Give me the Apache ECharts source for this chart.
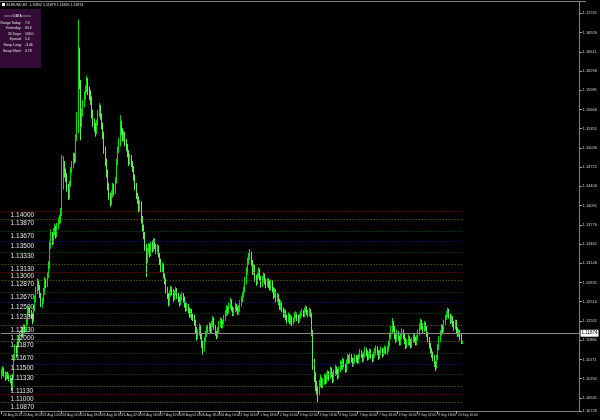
<!DOCTYPE html>
<html><head><meta charset="utf-8">
<script src="https://cdn.jsdelivr.net/npm/echarts@6/dist/echarts.min.js"></script>
<style>html,body{margin:0;padding:0;background:#000;}#c{width:600px;height:420px;}</style>
</head><body><div id="c"></div>
<script>
const symbolName = 'EURUSD,H1';
const tradingDays = ['20 Aug','21 Aug','24 Aug','25 Aug','26 Aug','27 Aug','28 Aug','31 Aug','1 Sep','2 Sep','3 Sep','4 Sep','7 Sep','8 Sep','9 Sep','10 Sep'];
const firstHour = 2;
const xTickLabels = ['20 Aug 2015','20 Aug 18:00','21 Aug 10:00','24 Aug 02:00','24 Aug 18:00','25 Aug 10:00','26 Aug 02:00','26 Aug 18:00','27 Aug 10:00','28 Aug 02:00','28 Aug 18:00','31 Aug 10:00','1 Sep 02:00','1 Sep 18:00','2 Sep 10:00','3 Sep 02:00','3 Sep 18:00','4 Sep 10:00','7 Sep 02:00','7 Sep 18:00','8 Sep 10:00','9 Sep 02:00','9 Sep 18:00','10 Sep 10:00'];

const opens = [
1.1130,1.1135,1.1140,1.1133,1.1128,1.1132,1.1130,1.1127,1.1124,1.1112,1.1130,1.1160,1.1175,1.1168,1.1182,1.1190,1.1198,1.1205,1.1200,1.1210,1.1206,1.1218,1.1235,1.1238,
1.1232,1.1228,1.1222,1.1240,1.1255,1.1270,1.1283,1.1275,1.1262,1.1248,1.1252,1.1268,1.1285,1.1280,1.1295,1.1310,1.1345,1.1362,1.1350,1.1366,1.1372,1.1360,1.1375,1.1384,
1.1388,1.1395,1.1440,1.1478,1.1462,1.1455,1.1440,1.1425,1.1445,1.1468,1.1475,1.1490,1.1485,1.1520,1.1555,1.1660,1.1610,1.1545,1.1560,1.1575,1.1590,1.1600,1.1612,1.1598,
1.1592,1.1580,1.1560,1.1545,1.1538,1.1530,1.1545,1.1560,1.1570,1.1555,1.1540,1.1525,1.1500,1.1480,1.1462,1.1440,1.1425,1.1415,1.1428,1.1440,1.1432,1.1450,1.1480,1.1500,
1.1512,1.1540,1.1530,1.1520,1.1525,1.1512,1.1505,1.1495,1.1480,1.1488,1.1478,1.1470,1.1455,1.1440,1.1425,1.1418,1.1405,1.1412,1.1385,1.1372,1.1360,1.1340,1.1320,1.1335,
1.1340,1.1330,1.1345,1.1338,1.1350,1.1342,1.1335,1.1340,1.1328,1.1318,1.1305,1.1310,1.1295,1.1285,1.1270,1.1262,1.1250,1.1265,1.1272,1.1268,1.1258,1.1265,1.1270,1.1262,
1.1255,1.1250,1.1258,1.1262,1.1255,1.1248,1.1240,1.1245,1.1238,1.1230,1.1236,1.1228,1.1225,1.1218,1.1205,1.1195,1.1200,1.1210,1.1195,1.1182,1.1175,1.1190,1.1198,1.1205,
1.1208,1.1212,1.1205,1.1215,1.1222,1.1210,1.1200,1.1195,1.1205,1.1215,1.1220,1.1212,1.1218,1.1225,1.1232,1.1240,1.1235,1.1245,1.1252,1.1240,1.1232,1.1238,1.1245,1.1240,
1.1236,1.1240,1.1248,1.1255,1.1262,1.1270,1.1285,1.1300,1.1318,1.1325,1.1332,1.1315,1.1300,1.1308,1.1290,1.1285,1.1295,1.1302,1.1290,1.1280,1.1288,1.1295,1.1285,1.1280,
1.1284,1.1280,1.1275,1.1282,1.1270,1.1262,1.1268,1.1255,1.1260,1.1250,1.1242,1.1248,1.1238,1.1230,1.1235,1.1226,1.1222,1.1228,1.1220,1.1225,1.1218,1.1222,1.1228,1.1230,
1.1225,1.1222,1.1228,1.1232,1.1236,1.1230,1.1238,1.1240,1.1235,1.1232,1.1238,1.1230,1.1200,1.1150,1.1130,1.1115,1.1108,1.1102,1.1118,1.1125,1.1115,1.1120,1.1128,1.1122,
1.1130,1.1135,1.1128,1.1140,1.1132,1.1125,1.1135,1.1142,1.1138,1.1130,1.1140,1.1150,1.1145,1.1155,1.1148,1.1140,1.1152,1.1160,1.1155,1.1162,1.1158,1.1150,1.1155,1.1160,
1.1158,1.1155,1.1162,1.1168,1.1165,1.1158,1.1165,1.1172,1.1168,1.1160,1.1165,1.1170,1.1162,1.1158,1.1165,1.1170,1.1175,1.1168,1.1162,1.1168,1.1172,1.1165,1.1170,1.1175,
1.1170,1.1175,1.1182,1.1195,1.1205,1.1215,1.1208,1.1195,1.1190,1.1200,1.1192,1.1185,1.1195,1.1202,1.1195,1.1188,1.1180,1.1185,1.1192,1.1185,1.1180,1.1188,1.1195,1.1190,
1.1185,1.1192,1.1200,1.1210,1.1218,1.1212,1.1205,1.1215,1.1208,1.1198,1.1190,1.1180,1.1172,1.1165,1.1160,1.1150,1.1145,1.1160,1.1178,1.1190,1.1200,1.1210,1.1205,1.1218,
1.1225,1.1230,1.1236,1.1228,1.1220,1.1225,1.1215,1.1210,1.1218,1.1205,1.1198,1.1202,1.1192,1.11852
];
const highs = [
1.1142,1.1146,1.1144,1.1137,1.1136,1.1137,1.1134,1.1131,1.1127,1.1134,1.1166,1.1182,1.1180,1.1188,1.1197,1.1204,1.1212,1.1210,1.1215,1.1214,1.1223,1.1241,1.1245,1.1242,
1.1238,1.1234,1.1246,1.1262,1.1276,1.1290,1.1288,1.1279,1.1266,1.1258,1.1274,1.1292,1.1289,1.1300,1.1318,1.1352,1.1370,1.1366,1.1372,1.1380,1.1376,1.1381,1.1390,1.1394,
1.1405,1.1492,1.1490,1.1482,1.1470,1.1462,1.1445,1.1450,1.1472,1.1482,1.1496,1.1495,1.1526,1.1562,1.1714,1.1668,1.1615,1.1568,1.1582,1.1596,1.1606,1.1622,1.1618,1.1604,
1.1598,1.1588,1.1566,1.1552,1.1545,1.1550,1.1566,1.1577,1.1574,1.1560,1.1545,1.1530,1.1506,1.1486,1.1468,1.1446,1.1430,1.1434,1.1446,1.1445,1.1456,1.1486,1.1506,1.1520,
1.1557,1.1548,1.1536,1.1532,1.1530,1.1518,1.1510,1.1500,1.1494,1.1492,1.1482,1.1474,1.1460,1.1446,1.1430,1.1424,1.1418,1.1416,1.1392,1.1378,1.1366,1.1346,1.1340,1.1348,
1.1346,1.1350,1.1352,1.1356,1.1355,1.1346,1.1346,1.1344,1.1332,1.1322,1.1316,1.1314,1.1298,1.1290,1.1276,1.1266,1.1270,1.1278,1.1276,1.1272,1.1270,1.1276,1.1274,1.1266,
1.1260,1.1264,1.1268,1.1266,1.1260,1.1252,1.1250,1.1248,1.1242,1.1240,1.1240,1.1232,1.1230,1.1222,1.1210,1.1206,1.1216,1.1214,1.1200,1.1188,1.1194,1.1204,1.1212,1.1214,
1.1218,1.1216,1.1220,1.1228,1.1226,1.1214,1.1204,1.1210,1.1220,1.1226,1.1224,1.1222,1.1230,1.1238,1.1246,1.1244,1.1250,1.1258,1.1255,1.1244,1.1242,1.1250,1.1248,1.1244,
1.1246,1.1254,1.1260,1.1268,1.1276,1.1292,1.1308,1.1324,1.1332,1.1338,1.1334,1.1320,1.1314,1.1312,1.1296,1.1300,1.1308,1.1306,1.1294,1.1294,1.1300,1.1298,1.1290,1.1290,
1.1290,1.1286,1.1288,1.1287,1.1276,1.1274,1.1272,1.1266,1.1264,1.1256,1.1254,1.1252,1.1242,1.1240,1.1238,1.1230,1.1234,1.1232,1.1230,1.1228,1.1226,1.1234,1.1236,1.1234,
1.1230,1.1232,1.1236,1.1240,1.1238,1.1242,1.1246,1.1244,1.1238,1.1242,1.1240,1.1234,1.1205,1.1158,1.1136,1.1122,1.1114,1.1124,1.1132,1.1128,1.1126,1.1134,1.1132,1.1136,
1.1140,1.1138,1.1145,1.1144,1.1136,1.1140,1.1148,1.1146,1.1142,1.1145,1.1156,1.1154,1.1160,1.1158,1.1150,1.1157,1.1166,1.1164,1.1168,1.1166,1.1160,1.1160,1.1166,1.1164,
1.1164,1.1167,1.1174,1.1172,1.1168,1.1170,1.1178,1.1176,1.1172,1.1170,1.1175,1.1174,1.1166,1.1170,1.1176,1.1180,1.1179,1.1172,1.1173,1.1178,1.1176,1.1175,1.1180,1.1178,
1.1180,1.1188,1.1200,1.1212,1.1225,1.1220,1.1212,1.1200,1.1206,1.1204,1.1196,1.1200,1.1208,1.1206,1.1200,1.1192,1.1190,1.1198,1.1195,1.1190,1.1193,1.1200,1.1198,1.1194,
1.1197,1.1206,1.1216,1.1224,1.1222,1.1216,1.1220,1.1218,1.1212,1.1202,1.1194,1.1184,1.1176,1.1170,1.1164,1.1154,1.1165,1.1182,1.1195,1.1205,1.1215,1.1214,1.1222,1.1230,
1.1236,1.1242,1.1240,1.1232,1.1230,1.1228,1.1220,1.1222,1.1222,1.1210,1.1207,1.1205,1.1199,1.11879
];
const lows = [
1.1125,1.1130,1.1128,1.1122,1.1124,1.1125,1.1121,1.1118,1.1105,1.1108,1.1126,1.1155,1.1160,1.1163,1.1177,1.1185,1.1193,1.1194,1.1196,1.1201,1.1202,1.1214,1.1229,1.1227,
1.1224,1.1215,1.1218,1.1236,1.1250,1.1264,1.1270,1.1258,1.1243,1.1242,1.1248,1.1263,1.1274,1.1276,1.1290,1.1305,1.1338,1.1344,1.1346,1.1360,1.1355,1.1357,1.1370,1.1378,
1.1380,1.1392,1.1435,1.1455,1.1448,1.1432,1.1418,1.1420,1.1440,1.1462,1.1470,1.1478,1.1480,1.1515,1.1528,1.1600,1.1516,1.1538,1.1555,1.1570,1.1583,1.1594,1.1590,1.1582,
1.1574,1.1552,1.1538,1.1530,1.1522,1.1526,1.1540,1.1555,1.1550,1.1534,1.1518,1.1494,1.1474,1.1455,1.1434,1.1418,1.1407,1.1410,1.1422,1.1426,1.1428,1.1445,1.1475,1.1495,
1.1506,1.1524,1.1514,1.1514,1.1506,1.1498,1.1488,1.1474,1.1476,1.1472,1.1464,1.1450,1.1434,1.1420,1.1412,1.1398,1.1400,1.1380,1.1366,1.1354,1.1335,1.1292,1.1315,1.1330,
1.1324,1.1326,1.1332,1.1334,1.1338,1.1330,1.1330,1.1324,1.1312,1.1300,1.1300,1.1290,1.1280,1.1265,1.1256,1.1244,1.1246,1.1260,1.1262,1.1252,1.1254,1.1262,1.1256,1.1250,
1.1244,1.1246,1.1254,1.1250,1.1242,1.1235,1.1236,1.1232,1.1225,1.1226,1.1222,1.1220,1.1212,1.1200,1.1188,1.1190,1.1196,1.1190,1.1176,1.1165,1.1170,1.1185,1.1194,1.1200,
1.1202,1.1200,1.1200,1.1210,1.1206,1.1196,1.1190,1.1192,1.1200,1.1210,1.1208,1.1208,1.1214,1.1220,1.1228,1.1230,1.1232,1.1240,1.1236,1.1228,1.1228,1.1234,1.1236,1.1230,
1.1230,1.1235,1.1244,1.1250,1.1258,1.1266,1.1280,1.1296,1.1312,1.1320,1.1310,1.1295,1.1296,1.1284,1.1278,1.1280,1.1290,1.1286,1.1275,1.1276,1.1284,1.1280,1.1274,1.1276,
1.1274,1.1270,1.1270,1.1266,1.1256,1.1258,1.1250,1.1250,1.1246,1.1238,1.1238,1.1234,1.1225,1.1226,1.1221,1.1216,1.1218,1.1215,1.1214,1.1212,1.1214,1.1218,1.1224,1.1220,
1.1216,1.1218,1.1224,1.1228,1.1226,1.1226,1.1234,1.1230,1.1226,1.1228,1.1226,1.1195,1.1140,1.1120,1.1105,1.1098,1.1087,1.1098,1.1112,1.1110,1.1110,1.1116,1.1116,1.1118,
1.1124,1.1122,1.1125,1.1128,1.1118,1.1120,1.1130,1.1132,1.1124,1.1126,1.1136,1.1140,1.1140,1.1144,1.1135,1.1136,1.1148,1.1150,1.1150,1.1152,1.1145,1.1146,1.1150,1.1152,
1.1150,1.1150,1.1158,1.1160,1.1152,1.1154,1.1160,1.1162,1.1155,1.1156,1.1160,1.1158,1.1152,1.1154,1.1160,1.1165,1.1164,1.1156,1.1158,1.1164,1.1160,1.1162,1.1166,1.1165,
1.1165,1.1170,1.1178,1.1190,1.1200,1.1202,1.1190,1.1184,1.1186,1.1188,1.1180,1.1180,1.1190,1.1190,1.1182,1.1174,1.1176,1.1180,1.1180,1.1175,1.1176,1.1184,1.1185,1.1180,
1.1180,1.1188,1.1196,1.1205,1.1206,1.1200,1.1202,1.1204,1.1194,1.1185,1.1175,1.1166,1.1160,1.1154,1.1145,1.1138,1.1142,1.1156,1.1172,1.1185,1.1196,1.1200,1.1202,1.1214,
1.1222,1.1226,1.1224,1.1215,1.1216,1.1210,1.1204,1.1206,1.1200,1.1194,1.1194,1.1188,1.1182,1.11825
];
const closes = [
1.1135,1.1140,1.1133,1.1128,1.1132,1.1130,1.1127,1.1124,1.1112,1.1130,1.1160,1.1175,1.1168,1.1182,1.1190,1.1198,1.1205,1.1200,1.1210,1.1206,1.1218,1.1235,1.1238,1.1232,
1.1228,1.1222,1.1240,1.1255,1.1270,1.1283,1.1275,1.1262,1.1248,1.1252,1.1268,1.1285,1.1280,1.1295,1.1310,1.1345,1.1362,1.1350,1.1366,1.1372,1.1360,1.1375,1.1384,1.1388,
1.1395,1.1440,1.1478,1.1462,1.1455,1.1440,1.1425,1.1445,1.1468,1.1475,1.1490,1.1485,1.1520,1.1555,1.1660,1.1610,1.1545,1.1560,1.1575,1.1590,1.1600,1.1612,1.1598,1.1592,
1.1580,1.1560,1.1545,1.1538,1.1530,1.1545,1.1560,1.1570,1.1555,1.1540,1.1525,1.1500,1.1480,1.1462,1.1440,1.1425,1.1415,1.1428,1.1440,1.1432,1.1450,1.1480,1.1500,1.1512,
1.1540,1.1530,1.1520,1.1525,1.1512,1.1505,1.1495,1.1480,1.1488,1.1478,1.1470,1.1455,1.1440,1.1425,1.1418,1.1405,1.1412,1.1385,1.1372,1.1360,1.1340,1.1320,1.1335,1.1340,
1.1330,1.1345,1.1338,1.1350,1.1342,1.1335,1.1340,1.1328,1.1318,1.1305,1.1310,1.1295,1.1285,1.1270,1.1262,1.1250,1.1265,1.1272,1.1268,1.1258,1.1265,1.1270,1.1262,1.1255,
1.1250,1.1258,1.1262,1.1255,1.1248,1.1240,1.1245,1.1238,1.1230,1.1236,1.1228,1.1225,1.1218,1.1205,1.1195,1.1200,1.1210,1.1195,1.1182,1.1175,1.1190,1.1198,1.1205,1.1208,
1.1212,1.1205,1.1215,1.1222,1.1210,1.1200,1.1195,1.1205,1.1215,1.1220,1.1212,1.1218,1.1225,1.1232,1.1240,1.1235,1.1245,1.1252,1.1240,1.1232,1.1238,1.1245,1.1240,1.1236,
1.1240,1.1248,1.1255,1.1262,1.1270,1.1285,1.1300,1.1318,1.1325,1.1332,1.1315,1.1300,1.1308,1.1290,1.1285,1.1295,1.1302,1.1290,1.1280,1.1288,1.1295,1.1285,1.1280,1.1284,
1.1280,1.1275,1.1282,1.1270,1.1262,1.1268,1.1255,1.1260,1.1250,1.1242,1.1248,1.1238,1.1230,1.1235,1.1226,1.1222,1.1228,1.1220,1.1225,1.1218,1.1222,1.1228,1.1230,1.1225,
1.1222,1.1228,1.1232,1.1236,1.1230,1.1238,1.1240,1.1235,1.1232,1.1238,1.1230,1.1200,1.1150,1.1130,1.1115,1.1108,1.1102,1.1118,1.1125,1.1115,1.1120,1.1128,1.1122,1.1130,
1.1135,1.1128,1.1140,1.1132,1.1125,1.1135,1.1142,1.1138,1.1130,1.1140,1.1150,1.1145,1.1155,1.1148,1.1140,1.1152,1.1160,1.1155,1.1162,1.1158,1.1150,1.1155,1.1160,1.1158,
1.1155,1.1162,1.1168,1.1165,1.1158,1.1165,1.1172,1.1168,1.1160,1.1165,1.1170,1.1162,1.1158,1.1165,1.1170,1.1175,1.1168,1.1162,1.1168,1.1172,1.1165,1.1170,1.1175,1.1170,
1.1175,1.1182,1.1195,1.1205,1.1215,1.1208,1.1195,1.1190,1.1200,1.1192,1.1185,1.1195,1.1202,1.1195,1.1188,1.1180,1.1185,1.1192,1.1185,1.1180,1.1188,1.1195,1.1190,1.1185,
1.1192,1.1200,1.1210,1.1218,1.1212,1.1205,1.1215,1.1208,1.1198,1.1190,1.1180,1.1172,1.1165,1.1160,1.1150,1.1145,1.1160,1.1178,1.1190,1.1200,1.1210,1.1205,1.1218,1.1225,
1.1230,1.1236,1.1228,1.1220,1.1225,1.1215,1.1210,1.1218,1.1205,1.1198,1.1202,1.1192,1.11852,1.11874
];

const levels = [1.14,1.1387,1.1367,1.135,1.1333,1.1313,1.13,1.1287,1.1267,1.125,1.1233,1.1213,1.12,1.1187,1.1167,1.115,1.1133,1.1113,1.11,1.1087];
const yTickValues = [1.17241,1.16926,1.16611,1.16296,1.15981,1.15666,1.15351,1.15036,1.14721,1.14406,1.14091,1.13776,1.13461,1.13146,1.12831,1.12516,1.12201,1.11886,1.11571,1.11256,1.10941,1.10726];
const yMin = 1.10726, yMax = 1.17426;
const infoTitle = 'DATA';
const infoRows = [['Range Today:','7.0'],['Yesterday:','84.6'],['30 Days:','109.0'],['Spread:','1.4'],['Swap Long:','-3.46'],['Swap Short:','0.78']];
const emptySlots = 94;

// categories (hourly bars)
const pad = n => (n < 10 ? '0' : '') + n;
const categories = [];
tradingDays.forEach((d, k) => { for (let h = (k === 0 ? firstHour : 0); h < 24; h++) categories.push(d + ' ' + pad(h) + ':00'); });
categories.length = closes.length;
for (let k = 0; k < emptySlots; k++) categories.push('');
const nBars = closes.length;
const candles = closes.map((c, i) => [opens[i], c, lows[i], highs[i]]);
const last = nBars - 1;

function levelColor(v) {
  const r = Math.round(v * 100000) % 1000;
  if (r === 0) return '#b00000';
  if (r === 500) return '#1414b4';
  if (r === 670 || r === 330) return '#0a640a';
  return '#7a7a00';
}
const FONT = 'Liberation Sans, Arial, sans-serif';
const levelLines = levels.map(v => {
  const ls = { color: levelColor(v), type: [1, 2], width: 1 };
  const lb = { show: true, position: 'insideStartBottom', formatter: () => v.toFixed(5), color: '#e6e6e6', fontSize: 6.5, fontFamily: FONT, distance: [9, 1] };
  return [{ coord: [0, v], lineStyle: ls, label: lb }, { coord: [last, v], lineStyle: ls, label: lb }];
});
const priceLine = { yAxis: closes[last], lineStyle: { color: '#8a8a8a', type: 'solid', width: 1 },
  label: { show: true, position: 'end', formatter: () => closes[last].toFixed(5), color: '#000', backgroundColor: '#fff', fontSize: 4.5, fontFamily: FONT, padding: [1, 1, 1, 1], distance: 1 } };

const chart = echarts.init(document.getElementById('c'), null, { renderer: 'canvas' });
const graphics = [
  { type: 'line', shape: { x1: 0, y1: 1.5, x2: 586, y2: 1.5 }, style: { stroke: '#808080', lineWidth: 1 }, silent: true },
  { type: 'rect', shape: { x: 2, y: 3, width: 3, height: 3 }, style: { fill: '#ffffff' }, silent: true },
  { type: 'text', x: 6.5, y: 2.5, style: { text: symbolName + '  ' + [opens[last], highs[last], lows[last], closes[last]].map(v => v.toFixed(5)).join(' '), fill: '#e8e8e8', fontSize: 3.6, fontFamily: FONT }, silent: true },
  { type: 'rect', shape: { x: 0, y: 9, width: 41, height: 59 }, style: { fill: '#330b36' }, silent: true },
  { type: 'line', shape: { x1: 4, y1: 16, x2: 13, y2: 16 }, style: { stroke: '#d0d0d0', lineWidth: 0.6 }, silent: true },
  { type: 'line', shape: { x1: 22, y1: 16, x2: 31, y2: 16 }, style: { stroke: '#d0d0d0', lineWidth: 0.6 }, silent: true },
  { type: 'text', x: 17.5, y: 16, style: { text: infoTitle, fill: '#e8e8e8', fontSize: 3.4, fontFamily: FONT, align: 'center', verticalAlign: 'middle' }, silent: true }
];
infoRows.forEach((r, k) => {
  graphics.push({ type: 'text', x: 21.5, y: 22.7 + k * 5.6, style: { text: r[0], fill: '#e8e8e8', fontSize: 3.4, fontFamily: FONT, align: 'right', verticalAlign: 'middle' }, silent: true });
  graphics.push({ type: 'text', x: 25, y: 22.7 + k * 5.6, style: { text: r[1], fill: '#e8e8e8', fontSize: 3.4, fontFamily: FONT, align: 'left', verticalAlign: 'middle' }, silent: true });
});

chart.setOption({
  animation: false,
  backgroundColor: '#000000',
  grid: { left: 1, right: 14, top: 2, bottom: 9, containLabel: false },
  xAxis: {
    type: 'category', data: categories, boundaryGap: true,
    axisLine: { show: true, lineStyle: { color: '#808080', width: 1 } },
    axisTick: { show: true, alignWithLabel: true, length: 3, interval: i => i % 16 === 0 && i < nBars, lineStyle: { color: '#a0a0a0' } },
    axisLabel: { show: true, interval: i => i % 16 === 0 && i < nBars, formatter: (val, i) => (i % 16 === 0 && i < nBars ? (xTickLabels[i / 16] || '') : ''),
      color: '#d0d0d0', fontSize: 3.3, fontFamily: FONT, align: 'left', margin: 2.5, padding: [0, 0, 0, 1.5] },
    splitLine: { show: false }
  },
  yAxis: {
    type: 'value', position: 'right', min: yMin, max: yMax, scale: true,
    axisLine: { show: true, lineStyle: { color: '#808080', width: 1 } },
    axisTick: { show: true, length: 2.5, customValues: yTickValues, lineStyle: { color: '#a0a0a0' } },
    axisLabel: { show: true, customValues: yTickValues, formatter: v => v.toFixed(5), color: '#d0d0d0', fontSize: 4, fontFamily: FONT, margin: 3 },
    splitLine: { show: false }
  },
  graphic: graphics,
  series: [{
    type: 'candlestick', data: candles, barWidth: 1,
    itemStyle: { color: '#00a000', color0: '#d0ffd0', borderColor: '#00e000', borderColor0: '#5aec5a', borderWidth: 1 },
    silent: true,
    markLine: { silent: true, symbol: ['none', 'none'], animation: false, data: levelLines.concat([priceLine]) }
  }]
});
</script>
</body></html>
